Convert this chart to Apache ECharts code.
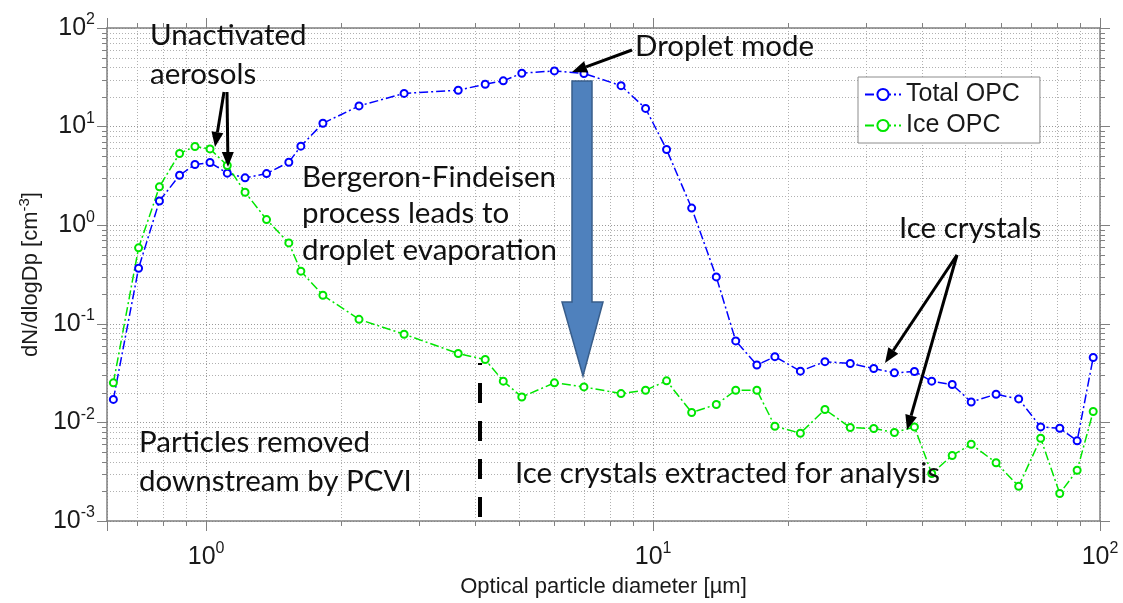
<!DOCTYPE html>
<html>
<head>
<meta charset="utf-8">
<script src="https://cdn.jsdelivr.net/npm/echarts@6/dist/echarts.min.js"></script>
<style>
  html, body { margin: 0; padding: 0; background: #fff; }
  #chart { width: 1123px; height: 603px; }
</style>
</head>
<body>
<div id="chart"></div>
<script>
// particle diameter [um]
var diameter = [0.62, 0.706, 0.786, 0.872, 0.944, 1.02, 1.115, 1.222, 1.365, 1.531,
    1.629, 1.825, 2.198, 2.773, 3.664, 4.211, 4.622, 5.085, 6.015, 7.003,
    8.479, 9.621, 10.72, 12.2, 13.85, 15.31, 17.07, 18.73, 21.36, 24.24,
    27.62, 31.17, 34.67, 38.44, 42.02, 46.7, 51.5, 58.54, 65.77, 73.67,
    81.27, 88.89, 96.56];
// dN/dlogDp [cm-3]
var totalOpc = [0.0171, 0.366, 1.76, 3.21, 4.13, 4.32, 3.37, 3.02, 3.34, 4.35,
    6.33, 10.8, 16.2, 21.7, 23.4, 26.9, 29.1, 34.8, 36.7, 34.6,
    26.0, 15.3, 5.86, 1.49, 0.299, 0.0671, 0.0382, 0.0464, 0.0331, 0.0413,
    0.0396, 0.0352, 0.0318, 0.0328, 0.0262, 0.0242, 0.0161, 0.0193, 0.0173, 0.0090,
    0.00873, 0.0065, 0.0455];
var iceOpc = [0.0252, 0.589, 2.45, 5.34, 6.29, 5.94, 4.03, 2.16, 1.14, 0.661,
    0.342, 0.195, 0.111, 0.0784, 0.05, 0.0434, 0.0262, 0.0181, 0.0252, 0.0229,
    0.0196, 0.0212, 0.0264, 0.0126, 0.0152, 0.0212, 0.0212, 0.00915, 0.00777, 0.0135,
    0.00888, 0.00867, 0.0079, 0.009, 0.00303, 0.00462, 0.006, 0.0039, 0.00225, 0.0069,
    0.0019, 0.00327, 0.0129];

var seriesNames = ['Total OPC', 'Ice OPC'];
var xMin = 0.6, xMax = 100, yMin = 0.001, yMax = 100;

// minor ticks (2..9 per decade)
var minorTicks = [];
[0.1, 1, 10].forEach(function (d) {
    for (var m = 2; m <= 9; m++) {
        var v = +(m * d).toPrecision(3);
        if (v > xMin && v < xMax) minorTicks.push([v, 1, 0]);
    }
});
[0.001, 0.01, 0.1, 1, 10].forEach(function (d) {
    for (var m = 2; m <= 9; m++) {
        minorTicks.push([1, +(m * d).toPrecision(3), 1]);
    }
});

function pairs(xs, ys) {
    return xs.map(function (x, i) { return [x, ys[i]]; });
}

var labelRich = {
    b: { fontFamily: 'Liberation Sans', fontSize: 25, color: '#1a1a1a', lineHeight: 32 },
    s: { fontFamily: 'Liberation Sans', fontSize: 16, color: '#1a1a1a', verticalAlign: 'top', lineHeight: 18 }
};
function powLabel(v) {
    var lg = Math.log10(v), e = Math.round(lg);
    if (Math.abs(lg - e) > 1e-6) return '';
    return '{b|10}{s|' + e + '}';
}

function logAxis(min, max, pos, show) {
    return {
        type: 'log', logBase: 10, min: min, max: max, position: pos,
        axisLine: { show: true, lineStyle: { color: '#808080', width: 1.5 } },
        axisTick: { show: true, inside: false, length: 10, lineStyle: { color: '#808080', width: 1 } },
        axisLabel: { show: show, formatter: powLabel, rich: labelRich },
        splitLine: { show: show, lineStyle: { color: '#999999', type: [1, 2] } }
    };
}

var xBottom = logAxis(xMin, xMax, 'bottom', true);
xBottom.axisLabel.margin = 20;
xBottom.name = 'Optical particle diameter [µm]';
xBottom.nameLocation = 'middle';
xBottom.nameGap = 55;
xBottom.nameTextStyle = { fontFamily: 'Liberation Sans', fontSize: 22, color: '#1a1a1a' };
var xTop = logAxis(xMin, xMax, 'top', false);

var yLeft = logAxis(yMin, yMax, 'left', true);
yLeft.axisLabel.margin = 12;
yLeft.name = '{n|dN/dlogDp [cm}{s|-3}{n|]}';
yLeft.nameLocation = 'middle';
yLeft.nameGap = 62;
yLeft.nameTextStyle = {
    rich: {
        n: { fontFamily: 'Liberation Sans', fontSize: 22, color: '#1a1a1a', lineHeight: 28 },
        s: { fontFamily: 'Liberation Sans', fontSize: 15, color: '#1a1a1a', verticalAlign: 'top', lineHeight: 15 }
    }
};
var yRight = logAxis(yMin, yMax, 'right', false);

// annotation arrow helper
function arrow(x1, y1, x2, y2) {
    var a = Math.atan2(y2 - y1, x2 - x1), L = 15, W = 6;
    var c = Math.cos(a), s = Math.sin(a);
    var bx = x2 - L * c, by = y2 - L * s;
    return [
        { type: 'line', silent: true, z: 50, shape: { x1: x1, y1: y1, x2: bx, y2: by },
          style: { stroke: '#000', lineWidth: 3 } },
        { type: 'polygon', silent: true, z: 50,
          shape: { points: [[x2, y2], [bx + W * s, by - W * c], [bx - W * s, by + W * c]] },
          style: { fill: '#000' } }
    ];
}
function note(text, x, y) {
    return { type: 'text', silent: true, z: 50, x: x, y: y,
        style: { text: text, fontFamily: 'Lato', fontSize: 29.5, fill: '#111', verticalAlign: 'middle' } };
}

var graphics = [
    note('Unactivated', 150, 35),
    note('aerosols', 150, 74),
    note('Droplet mode', 635, 46),
    note('Bergeron-Findeisen', 302, 177),
    note('process leads to', 302, 213),
    note('droplet evaporation', 302, 250),
    note('Ice crystals', 899, 228),
    note('Particles removed', 139, 442),
    note('downstream by PCVI', 139, 481),
    note('Ice crystals extracted for analysis', 515, 473),
    // big blue arrow
    { type: 'polygon', silent: true, z: 40,
      shape: { points: [[572, 81], [592, 81], [592, 302], [603, 302], [583, 376], [562, 302], [572, 302]] },
      style: { fill: '#4f81bd', stroke: '#385d8a', lineWidth: 1.5 } },
    // PCVI cut
    { type: 'line', silent: true, z: 40, shape: { x1: 480, y1: 517, x2: 480, y2: 363 },
      style: { stroke: '#000', lineWidth: 4, lineDash: [20, 18] } }
].concat(arrow(224, 92, 215, 147), arrow(227, 92, 228, 167),
    arrow(632, 50, 572, 72), arrow(957, 255, 885, 363), arrow(957, 255, 907, 430));

var myChart = echarts.init(document.getElementById('chart'));

var option = {
    backgroundColor: '#fff',
    animation: false,
    grid: { left: 107, right: 23, top: 28, bottom: 82 },
    xAxis: [xBottom, xTop],
    yAxis: [yLeft, yRight],
    legend: {
        data: seriesNames,
        orient: 'vertical',
        left: 858, top: 77,
        backgroundColor: '#fff',
        borderColor: '#8c8c8c', borderWidth: 1,
        padding: [5, 20, 5, 6],
        itemGap: 6, itemWidth: 36, itemHeight: 14,
        textStyle: { fontFamily: 'Liberation Sans', fontSize: 25, color: '#1a1a1a' }
    },
    graphic: graphics,
    series: [{
        name: 'minor',
        type: 'custom',
        silent: true, clip: false, z: 1,
        data: minorTicks,
        renderItem: function (params, api) {
            var cs = params.coordSys;
            var p = api.coord([api.value(0), api.value(1)]);
            var grid = { stroke: '#b0b0b0', lineWidth: 1, lineDash: [1, 2] };
            var tick = { stroke: '#808080', lineWidth: 1 };
            if (api.value(2) === 0) {
                var x = Math.round(p[0]) + 0.5, b = cs.y + cs.height;
                return { type: 'group', children: [
                    { type: 'line', shape: { x1: x, y1: cs.y, x2: x, y2: b }, style: grid },
                    { type: 'line', shape: { x1: x, y1: b, x2: x, y2: b + 5 }, style: tick },
                    { type: 'line', shape: { x1: x, y1: cs.y, x2: x, y2: cs.y - 5 }, style: tick }
                ] };
            }
            var y = Math.round(p[1]) + 0.5, r = cs.x + cs.width;
            return { type: 'group', children: [
                { type: 'line', shape: { x1: cs.x, y1: y, x2: r, y2: y }, style: grid },
                { type: 'line', shape: { x1: cs.x, y1: y, x2: cs.x - 5, y2: y }, style: tick },
                { type: 'line', shape: { x1: r, y1: y, x2: r + 5, y2: y }, style: tick }
            ] };
        }
    }, {
        name: seriesNames[0],
        type: 'line',
        z: 3,
        data: pairs(diameter, totalOpc),
        symbol: 'emptyCircle', symbolSize: 7,
        itemStyle: { color: '#0000ff', borderWidth: 1.5 },
        lineStyle: { color: '#0000ff', width: 1.5, type: [9, 3, 2, 3] }
    }, {
        name: seriesNames[1],
        type: 'line',
        z: 3,
        data: pairs(diameter, iceOpc),
        symbol: 'emptyCircle', symbolSize: 7,
        itemStyle: { color: '#00e600', borderWidth: 1.5 },
        lineStyle: { color: '#00e600', width: 1.5, type: [9, 3, 2, 3] }
    }]
};
myChart.setOption(option);
</script>
</body>
</html>
